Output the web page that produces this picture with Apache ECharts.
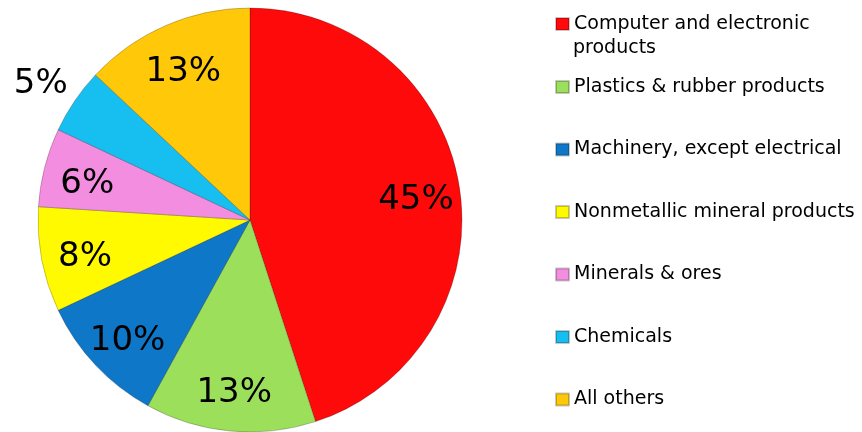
<!DOCTYPE html>
<html>
<head>
<meta charset="utf-8">
<script src="https://cdn.jsdelivr.net/npm/echarts@6/dist/echarts.min.js"></script>
<style>html,body{margin:0;padding:0;background:#fff;}#c{width:862px;height:432px;}</style>
</head>
<body>
<div id="c"></div>
<script>
const categories = ["Computer and electronic products", "Plastics & rubber products", "Machinery, except electrical", "Nonmetallic mineral products", "Minerals & ores", "Chemicals", "All others"];
const values = [45, 13, 10, 8, 6, 5, 13];
const colors = ["#FF0A0A", "#9CDF5B", "#0E77C7", "#FFFA00", "#F28DDF", "#17BEF0", "#FFC808"];

const chart = echarts.init(document.getElementById('c'), null, {renderer: 'canvas'});
const FONT = '"DejaVu Sans", Verdana, sans-serif';
const cx = 250, cy = 220, R = 212;

const mainData = categories.map((n, i) => ({name: n, value: values[i], itemStyle: {color: colors[i]}}));
const insideData = categories.map((n, i) => ({name: n, value: values[i], label: {show: values[i] > 5}}));
const outsideData = categories.map((n, i) => ({name: n, value: values[i], label: {show: values[i] <= 5}}));

const firstWords = categories[0].split(' ');
const line1 = firstWords.slice(0, 3).join(' ');
const line2 = firstWords.slice(3).join(' ');

const labelStyle = {position: 'inside', formatter: '{c}%', fontFamily: FONT, fontSize: 34, color: '#000', offset: [0, 6]};
const legendText = {fontFamily: FONT, fontSize: 19, color: '#000', lineHeight: 22};

chart.setOption({
  animation: false,
  backgroundColor: '#fff',
  legend: [
    {
      orient: 'vertical', left: 550, top: 8, data: [categories[0]],
      itemWidth: 13, itemHeight: 12, icon: 'rect', selectedMode: false,
      formatter: () => line1, textStyle: legendText
    },
    {
      orient: 'vertical', left: 550, top: 71, data: categories.slice(1),
      itemWidth: 13, itemHeight: 12, itemGap: 40.5, icon: 'rect', selectedMode: false,
      textStyle: legendText
    }
  ],
  graphic: [{
    type: 'text', left: 573, top: 39,
    style: {text: line2, fontFamily: FONT, fontSize: 19, fill: '#000'}
  }],
  series: [
    {
      type: 'pie', center: [cx, cy], radius: [0, R], startAngle: 90, clockwise: true,
      data: mainData, label: {show: false}, labelLine: {show: false},
      itemStyle: {borderColor: 'rgba(0,0,0,0.22)', borderWidth: 1},
      emphasis: {disabled: true}, silent: true
    },
    {
      type: 'pie', center: [cx, cy], radius: [118, R], startAngle: 90, clockwise: true,
      data: insideData, itemStyle: {color: 'rgba(0,0,0,0)'},
      label: labelStyle, labelLine: {show: false}, avoidLabelOverlap: false,
      emphasis: {disabled: true}, silent: true, z: 5
    },
    {
      type: 'pie', center: [cx, cy], radius: [210, 290], startAngle: 90, clockwise: true,
      data: outsideData, itemStyle: {color: 'rgba(0,0,0,0)'},
      label: labelStyle, labelLine: {show: false}, avoidLabelOverlap: false,
      emphasis: {disabled: true}, silent: true, z: 5
    }
  ]
});
</script>
</body>
</html>
